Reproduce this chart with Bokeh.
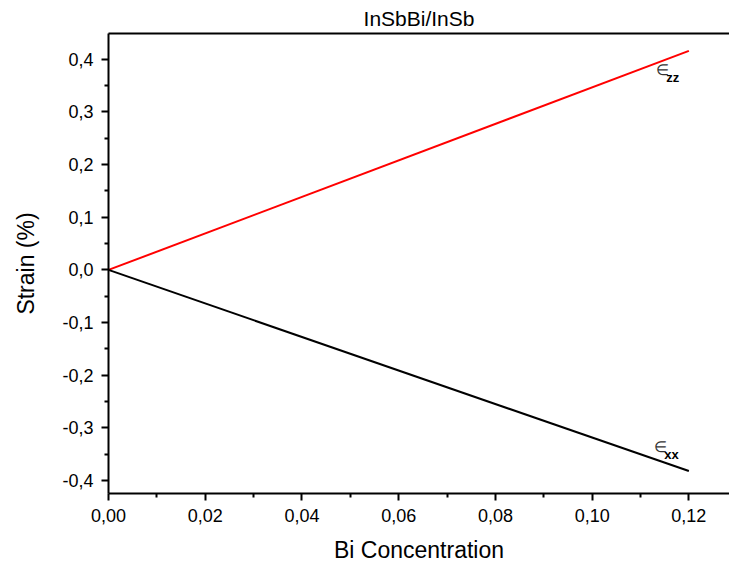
from bokeh.plotting import figure
from bokeh.models import Range1d, CustomJSTickFormatter, LinearAxis, ColumnDataSource, FixedTicker
from bokeh.core.properties import value
from bokeh.embed import file_html
from bokeh.resources import INLINE

# Bi concentration and in-plane / out-of-plane strain (%)
bi_conc = [0.0, 0.12]
strain_zz = [0.0, 0.416]
strain_xx = [0.0, -0.382]

x_ticks = [0.0, 0.02, 0.04, 0.06, 0.08, 0.10, 0.12]
x_minor = [0.01, 0.03, 0.05, 0.07, 0.09, 0.11]
y_ticks = [-0.4, -0.3, -0.2, -0.1, 0.0, 0.1, 0.2, 0.3, 0.4]
y_minor = [-0.35, -0.25, -0.15, -0.05, 0.05, 0.15, 0.25, 0.35]

FONT = "Liberation Sans"
X0, X1 = 0.0, 0.1284
Y0, Y1 = -0.4246, 0.449

p = figure(width=729, height=567, output_backend="svg", toolbar_location=None,
           x_range=Range1d(X0, X1), y_range=Range1d(Y0, Y1),
           min_border_left=108, min_border_right=0, min_border_top=0,
           min_border_bottom=74, x_axis_label="Bi Concentration",
           y_axis_label="Strain (%)", title="InSbBi/InSb")
p.background_fill_color = "white"
p.border_fill_color = "white"
p.outline_line_color = None
p.grid.visible = False

p.title.align = "center"
p.title.text_font = FONT
p.title.text_font_size = "21px"
p.title.text_font_style = "normal"
p.title.text_color = "black"
p.title.offset = 0
p.title.standoff = 8

src = ColumnDataSource(dict(x=bi_conc, zz=strain_zz, xx=strain_xx))
p.line("x", "zz", source=src, line_color="#ff0000", line_width=2)
p.line("x", "xx", source=src, line_color="black", line_width=2)

for ax, ticks, minor, digits in ((p.xaxis[0], x_ticks, x_minor, 2),
                                 (p.yaxis[0], y_ticks, y_minor, 1)):
    ax.ticker = FixedTicker(ticks=ticks, minor_ticks=minor)
    ax.formatter = CustomJSTickFormatter(
        args=dict(d=digits),
        code="return tick.toFixed(d).replace('.', ',');")
    ax.axis_line_width = 2
    ax.major_tick_line_width = 2
    ax.minor_tick_line_width = 2
    ax.major_tick_out = 7
    ax.major_tick_in = 0
    ax.minor_tick_out = 4
    ax.minor_tick_in = 0
    ax.major_label_text_font = FONT
    ax.major_label_text_font_size = "18px"
    ax.major_label_text_color = "black"
    ax.axis_label_text_font = FONT
    ax.axis_label_text_font_size = "23px"
    ax.axis_label_text_font_style = "normal"
    ax.axis_label_text_color = "black"

p.xaxis[0].major_label_standoff = 8
p.xaxis[0].axis_label_standoff = 12
p.yaxis[0].major_label_standoff = 8
p.yaxis[0].axis_label_standoff = 20

# top frame line
top = LinearAxis(axis_line_width=2, major_tick_line_color=None, minor_tick_line_color=None,
                 major_label_text_font_size="0px", major_label_standoff=0)
top.ticker = FixedTicker(ticks=[])
p.add_layout(top, "above")

# strain component labels
p.text(x=[0.1131, 0.1127], y=[0.381, -0.335], text=["\u2208", "\u2208"],
       text_font=value(FONT), text_font_size="15px", text_color="#333333",
       text_align="left", text_baseline="middle")
p.text(x=[0.1153, 0.1149], y=[0.365, -0.350], text=["zz", "xx"],
       text_font=value(FONT), text_font_size="13px", text_font_style="bold",
       text_color="black", text_align="left", text_baseline="middle")

open("out.html", "w").write(file_html(p, INLINE))
